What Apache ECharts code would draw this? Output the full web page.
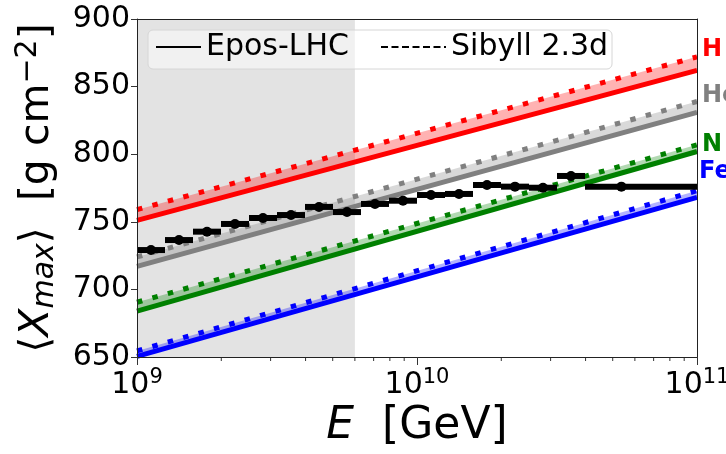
<!DOCTYPE html>
<html><head><meta charset="utf-8">
<script src="https://cdn.jsdelivr.net/npm/echarts@6/dist/echarts.min.js"></script>
<style>html,body{margin:0;padding:0;background:#fff}#c{width:726px;height:454px}</style>
</head><body><div id="c"></div>
<script>
// ---------------- data ----------------
const xMinE = 1e9, xMaxE = 1e11;
const yMin = 650, yMax = 900, yStep = 50;
const shadedRangeE = [1e9, 6e9];
const elements = ['H', 'He', 'N', 'Fe'];
// Epos-LHC (solid) line values at E = 1e9 and 1e11
const eposAt1e9  = [751, 717, 684, 650.5];
const eposAt1e11 = [862, 831, 802, 768];
// Sibyll 2.3d (dotted) line values at E = 1e9 and 1e11
const sibyllAt1e9  = [759, 724, 690.5, 654.5];
const sibyllAt1e11 = [872, 839, 807, 773];
// measured <Xmax> points (log10 E of bin centre / edges)
const logECentre = [9.05, 9.15, 9.25, 9.35, 9.45, 9.55, 9.65, 9.75, 9.85, 9.95, 10.05, 10.15, 10.25, 10.35, 10.45, 10.55, 10.73];
const logELow    = [9.0, 9.1, 9.2, 9.3, 9.4, 9.5, 9.6, 9.7, 9.8, 9.9, 10.0, 10.1, 10.2, 10.3, 10.4, 10.5, 10.6];
const logEHigh   = [9.1, 9.2, 9.3, 9.4, 9.5, 9.6, 9.7, 9.8, 9.9, 10.0, 10.1, 10.2, 10.3, 10.4, 10.5, 10.6, 11.0];
const xmaxMean   = [729.1, 736.5, 742.7, 748.4, 752.8, 755.0, 761.0, 757.2, 763.2, 765.6, 769.8, 770.6, 777.2, 776.0, 775.2, 783.9, 776.0];
const xmaxErr    = [3, 3, 3, 3, 3, 3, 3, 3, 3, 3, 3, 3, 3, 3, 3, 3, 3];
const minorTickE = [2e9, 3e9, 4e9, 5e9, 6e9, 7e9, 8e9, 9e9, 2e10, 3e10, 4e10, 5e10, 6e10, 7e10, 8e10, 9e10];
const legendNames = ['Epos-LHC', 'Sibyll 2.3d'];

// ---------------- styles ----------------
const FONT = 'DejaVu Sans';
const colors = ['#ff0000', '#808080', '#008000', '#0000ff'];
const bandColors = ['rgba(255,0,0,0.3)', 'rgba(128,128,128,0.3)', 'rgba(0,128,0,0.3)', 'rgba(0,0,255,0.3)'];
const labelOffsets = [[0, -7.5], [0, -5.5], [0, 0], [-3, -19]];

const series = [];

// shaded region
series.push({
  type: 'custom', z: 1, silent: true,
  data: [[shadedRangeE[0], shadedRangeE[1]]],
  renderItem: function (params, api) {
    const p0 = api.coord([api.value(0), yMax]);
    const p1 = api.coord([api.value(1), yMin]);
    return { type: 'rect', shape: { x: p0[0], y: p0[1], width: p1[0] - p0[0], height: p1[1] - p0[1] },
      style: { fill: '#e3e3e3' } };
  }
});

elements.forEach(function (el, i) {
  // band between models
  series.push({
    type: 'custom', z: 2, silent: true,
    data: [[xMinE, xMaxE, eposAt1e9[i], eposAt1e11[i], sibyllAt1e9[i], sibyllAt1e11[i]]],
    renderItem: function (params, api) {
      const a = api.coord([api.value(0), api.value(2)]);
      const b = api.coord([api.value(1), api.value(3)]);
      const c = api.coord([api.value(1), api.value(5)]);
      const d = api.coord([api.value(0), api.value(4)]);
      return { type: 'polygon', shape: { points: [a, b, c, d] }, style: { fill: bandColors[i] } };
    }
  });
  series.push({
    type: 'line', z: 3, symbol: 'none', silent: true, clip: true,
    data: [[xMinE, eposAt1e9[i]], [xMaxE, eposAt1e11[i]]],
    lineStyle: { color: colors[i], width: 5 },
    itemStyle: { color: colors[i] }
  });
  series.push({
    type: 'line', z: 3, symbol: 'none', silent: true, clip: true,
    data: [[xMinE, sibyllAt1e9[i]], [xMaxE, sibyllAt1e11[i]]],
    lineStyle: { color: colors[i], width: 5, type: [5.5, 10.5], cap: 'butt' },
    itemStyle: { color: colors[i] },
    endLabel: { show: true, formatter: el, color: colors[i], fontFamily: FONT, fontWeight: 'bold',
      fontSize: 24, distance: 5, offset: labelOffsets[i] }
  });
});

// data points
const pts = logECentre.map(function (c, i) {
  return [Math.pow(10, c), xmaxMean[i], Math.pow(10, logELow[i]), Math.pow(10, logEHigh[i]), xmaxErr[i]];
});
series.push({
  type: 'custom', z: 6, silent: true, data: pts,
  itemStyle: { color: '#000' },
  renderItem: function (params, api) {
    const xc = api.value(0), y = api.value(1), xl = api.value(2), xh = api.value(3), err = api.value(4);
    const pL = api.coord([xl, y]), pH = api.coord([xh, y]), pC = api.coord([xc, y]);
    const pT = api.coord([xc, y + err]), pB = api.coord([xc, y - err]);
    return { type: 'group', children: [
      { type: 'rect', shape: { x: pL[0], y: pL[1] - 3, width: pH[0] - pL[0], height: 6 }, style: { fill: '#000', stroke: null } },
      { type: 'rect', shape: { x: pC[0] - 1.5, y: pT[1], width: 3, height: pB[1] - pT[1] }, style: { fill: '#000', stroke: null } },
      { type: 'circle', shape: { cx: pC[0], cy: pC[1], r: 5 }, style: { fill: '#000', stroke: null } }
    ] };
  }
});

// minor ticks on the log axis
series.push({
  type: 'custom', z: 6, silent: true, clip: false,
  data: minorTickE.map(function (e) { return [e]; }),
  renderItem: function (params, api) {
    const p = api.coord([api.value(0), yMin]);
    return { type: 'line', shape: { x1: p[0], y1: p[1], x2: p[0], y2: p[1] + 4 }, style: { stroke: '#333', lineWidth: 1 } };
  }
});

// legend-only series
series.push({ name: legendNames[0], type: 'line', data: [], symbol: 'none', lineStyle: { color: '#000', width: 2 }, itemStyle: { color: '#000' } });
series.push({ name: legendNames[1], type: 'line', data: [], symbol: 'none', lineStyle: { color: '#000', width: 2, type: [7, 3.5] }, itemStyle: { color: '#000' } });

const axisLineStyle = { show: true, lineStyle: { color: '#222', width: 1 } };

const option = {
  animation: false,
  backgroundColor: '#fff',
  grid: { left: 137, right: 29, top: 19, bottom: 97, containLabel: false, outerBoundsMode: 'none' },
  xAxis: [{
    type: 'log', logBase: 10, min: xMinE, max: xMaxE, z: 10,
    axisLine: axisLineStyle,
    axisTick: { show: true, inside: false, length: 8, lineStyle: { color: '#333' } },
    splitLine: { show: false },
    axisLabel: {
      margin: 10, color: '#000', fontFamily: FONT,
      formatter: function (v) { return '{b|10}{s|' + Math.round(Math.log10(v)) + '}'; },
      rich: {
        b: { fontSize: 30, fontFamily: FONT, color: '#000', lineHeight: 36 },
        s: { fontSize: 21, fontFamily: FONT, color: '#000', verticalAlign: 'top', lineHeight: 24 }
      }
    },
    name: '{i|E}{n|  [GeV]}', nameLocation: 'middle', nameGap: 42,
    nameTextStyle: { rich: {
      i: { fontSize: 44, fontFamily: FONT, fontStyle: 'italic', color: '#000' },
      n: { fontSize: 44, fontFamily: FONT, color: '#000' }
    } }
  }, {
    type: 'log', logBase: 10, min: xMinE, max: xMaxE, position: 'top', z: 10,
    axisLine: axisLineStyle, axisTick: { show: false }, axisLabel: { show: false }, splitLine: { show: false }
  }],
  yAxis: [{
    type: 'value', min: yMin, max: yMax, interval: yStep, z: 10,
    axisLine: axisLineStyle,
    axisTick: { show: true, inside: false, length: 6, lineStyle: { color: '#333' } },
    splitLine: { show: false },
    axisLabel: { fontSize: 30, fontFamily: FONT, color: '#000', margin: 7 },
    name: '{n|⟨}{i|X}{sub|max}{n|⟩  [g cm}{sup|−2}{n|]}', nameLocation: 'middle', nameGap: 76, nameRotate: 90,
    nameTextStyle: { rich: {
      n: { fontSize: 41, fontFamily: FONT, color: '#000' },
      i: { fontSize: 41, fontFamily: FONT, fontStyle: 'italic', color: '#000' },
      sub: { fontSize: 30, fontFamily: FONT, fontStyle: 'italic', color: '#000', padding: [16, 0, 0, 0] },
      sup: { fontSize: 30, fontFamily: FONT, color: '#000', padding: [0, 0, 18, 0] }
    } }
  }, {
    type: 'value', min: yMin, max: yMax, interval: yStep, position: 'right', z: 10,
    axisLine: axisLineStyle, axisTick: { show: false }, axisLabel: { show: false }, splitLine: { show: false }
  }],
  legend: [{
    data: [legendNames[0]], left: 155, top: 32, padding: 0, itemWidth: 45, itemHeight: 20, itemGap: 0,
    itemStyle: { opacity: 0 },
    textStyle: { fontSize: 30, fontFamily: FONT, color: '#000' }, z: 8
  }, {
    data: [legendNames[1]], left: 380, top: 32, padding: 0, itemWidth: 65, itemHeight: 20, itemGap: 0,
    itemStyle: { opacity: 0 },
    textStyle: { fontSize: 30, fontFamily: FONT, color: '#000' }, z: 8
  }],
  graphic: [{
    type: 'rect', z: 7, silent: true,
    shape: { x: 148, y: 30, width: 464, height: 39, r: 5 },
    style: { fill: 'rgba(255,255,255,0.5)', stroke: '#d6d6d6', lineWidth: 1 }
  }],
  series: series
};

const chart = echarts.init(document.getElementById('c'), null, { renderer: 'canvas' });
chart.setOption(option);
</script>
</body></html>
